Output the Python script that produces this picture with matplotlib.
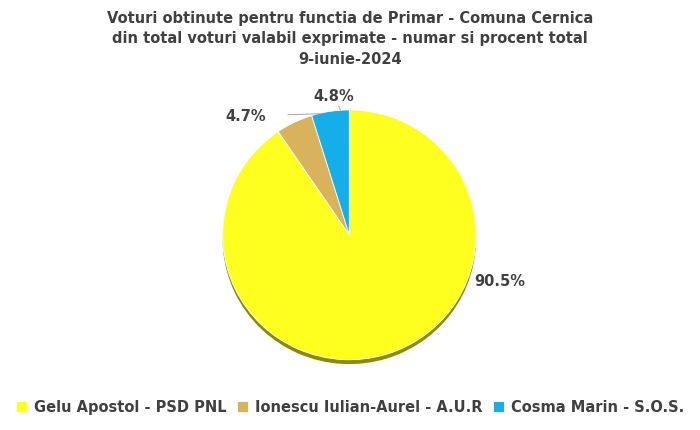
import matplotlib
matplotlib.use("Agg")
import matplotlib.pyplot as plt

candidati = ["Gelu Apostol - PSD PNL", "Ionescu Iulian-Aurel - A.U.R", "Cosma Marin - S.O.S."]
procente = [90.5, 4.7, 4.8]
culori = ["#FFFF1F", "#D9B35C", "#14AEE8"]
umbre = ["#8A8A10", "#7A6530", "#0B6080"]

fig = plt.figure(figsize=(7, 4.3), dpi=100)
fig.text(0.5, 0.975, "Voturi obtinute pentru functia de Primar - Comuna Cernica\n"
         "din total voturi valabil exprimate - numar si procent total\n9-iunie-2024",
         ha="center", va="top", fontsize=10.5, fontweight="bold", color="#404040",
         linespacing=1.45)

ax = fig.add_axes([0.499 - 0.19, 0.146, 0.38, 0.61])
# umbra / grosime
ax.pie(procente, colors=umbre, startangle=90, counterclock=False, radius=1.0,
       center=(0, -0.035), wedgeprops=dict(linewidth=0))
wedges, _ = ax.pie(procente, colors=culori, startangle=90, counterclock=False,
                   radius=1.0, wedgeprops=dict(linewidth=0.6, edgecolor="white"))
ax.set_xlim(-1.05, 1.05)
ax.set_ylim(-1.06, 1.04)
ax.set_aspect("auto")

ax.text(1.19, -0.37, "90.5%", fontsize=10.5, fontweight="bold", color="#404040",
        ha="center", va="center")
ax.annotate("4.7%", xy=(-0.22, 0.97), xytext=(-0.82, 0.95), fontsize=10.5,
            fontweight="bold", color="#404040", ha="center", va="center",
            arrowprops=dict(arrowstyle="-", color="#A6A6A6", lw=0.7,
                            shrinkA=14, shrinkB=0))
ax.annotate("4.8%", xy=(-0.07, 1.0), xytext=(-0.12, 1.11), fontsize=10.5,
            fontweight="bold", color="#404040", ha="center", va="center",
            arrowprops=dict(arrowstyle="-", color="#A6A6A6", lw=0.7,
                            shrinkA=6, shrinkB=0))

fig.legend(wedges, candidati, loc="lower center", bbox_to_anchor=(0.5, 0.005),
           ncol=3, frameon=False, handlelength=0.8, handleheight=0.8,
           columnspacing=0.7, handletextpad=0.45,
           prop=dict(size=10.5, weight="bold"), labelcolor="#404040")
fig.savefig("out.png", dpi=100)
